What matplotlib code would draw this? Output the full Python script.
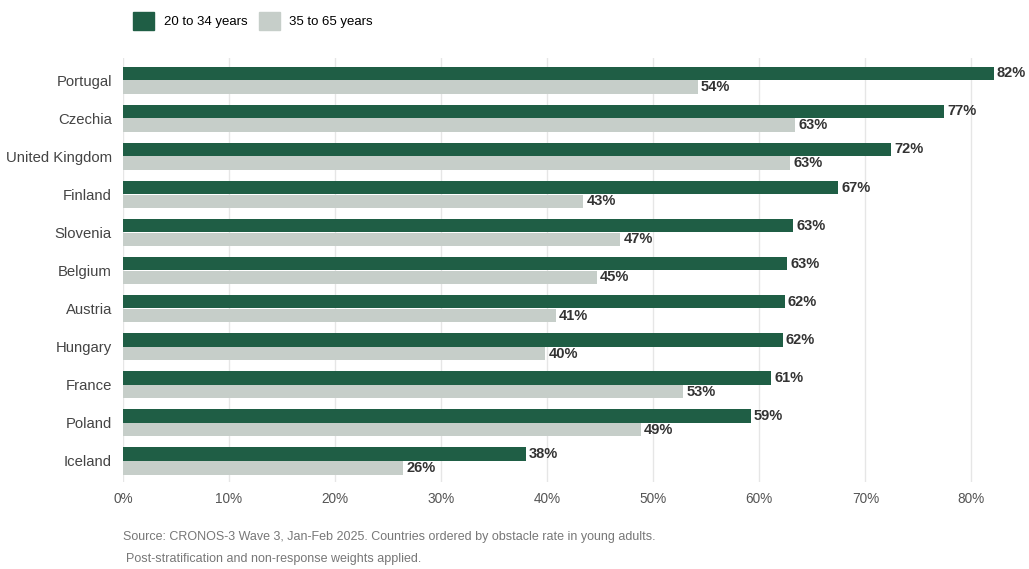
import matplotlib.pyplot as plt
import matplotlib.patches as mpatches
import numpy as np

plt.rcParams['font.family'] = ['Liberation Sans', 'DejaVu Sans']

# Data
countries = ['Portugal', 'Czechia', 'United Kingdom', 'Finland', 'Slovenia', 'Belgium',
             'Austria', 'Hungary', 'France', 'Poland', 'Iceland']
young = [82.1, 77.4, 72.4, 67.4, 63.2, 62.6, 62.4, 62.2, 61.1, 59.2, 38.0]
older = [54.2, 63.4, 62.9, 43.4, 46.9, 44.7, 40.8, 39.8, 52.8, 48.8, 26.4]
xticks = [0, 10, 20, 30, 40, 50, 60, 70, 80]

green = '#1f5e45'
grey = '#c6cec9'

fig = plt.figure(figsize=(10.29, 5.69), dpi=100)
ax = fig.add_axes([0.1195, 0.153, 0.872, 0.745])

y = np.arange(len(countries))
h = 0.35
off = 0.18
ax.barh(y - off, young, height=h, color=green)
ax.barh(y + off, older, height=h, color=grey)

for yi, v in zip(y, young):
    ax.text(v + 0.3, yi - off, f'{v:.0f}%', va='center', ha='left',
            fontsize=10.5, fontweight='bold', color='#333333')
for yi, v in zip(y, older):
    ax.text(v + 0.3, yi + off, f'{v:.0f}%', va='center', ha='left',
            fontsize=10.5, fontweight='bold', color='#333333')

ax.set_yticks(y)
ax.set_yticklabels(countries, fontsize=10.7, color='#444444')
ax.set_ylim(10.55, -0.58)
ax.set_xlim(0, 84.6)
ax.set_xticks(xticks)
ax.set_xticklabels([f'{t}%' for t in xticks], fontsize=9.8, color='#555555')
ax.tick_params(length=0, pad=7)
ax.tick_params(axis='y', pad=8)
ax.grid(axis='x', color='#e6e6e6', linewidth=1)
ax.set_axisbelow(True)
for s in ax.spines.values():
    s.set_visible(False)

handles = [mpatches.Patch(color=green, label='20 to 34 years'),
           mpatches.Patch(color=grey, label='35 to 65 years')]
fig.legend(handles=handles, loc='upper left', bbox_to_anchor=(0.118, 1.0), ncol=2,
           frameon=False, fontsize=9.5, handlelength=1.6, handleheight=1.7,
           handletextpad=0.7, columnspacing=0.9)

fig.text(0.1195, 1 - 537 / 569, 'Source: CRONOS-3 Wave 3, Jan-Feb 2025. Countries ordered by obstacle rate in young adults.',
         fontsize=9, color='#777777', va='center')
fig.text(0.1225, 1 - 559 / 569, 'Post-stratification and non-response weights applied.',
         fontsize=9, color='#777777', va='center')

fig.savefig('out.png', dpi=100)
